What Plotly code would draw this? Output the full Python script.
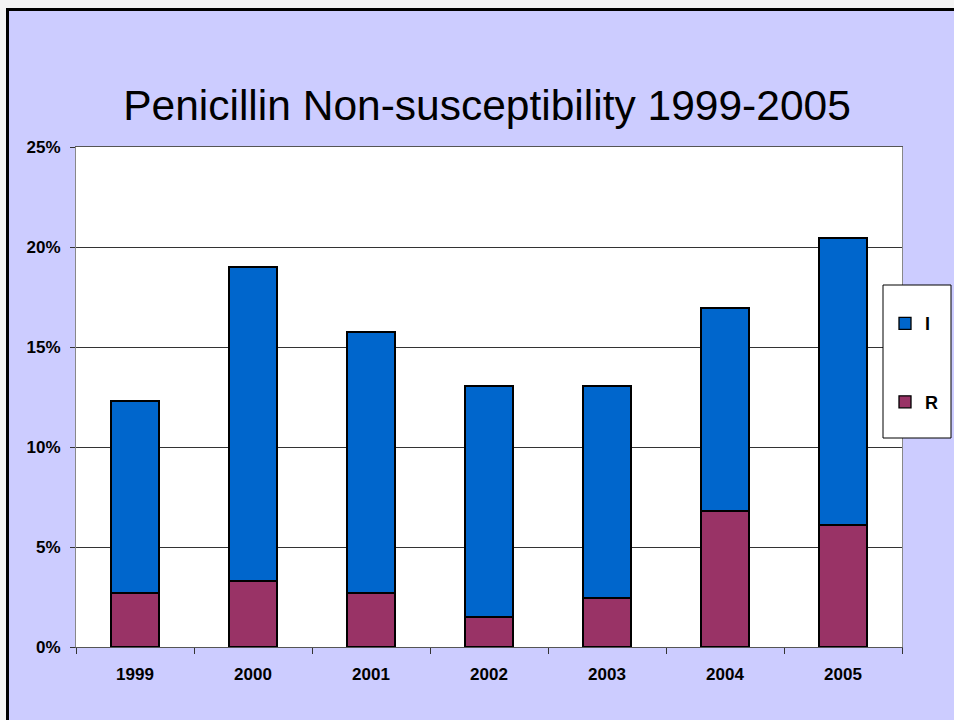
import plotly.graph_objects as go

years = ["1999", "2000", "2001", "2002", "2003", "2004", "2005"]
r_vals = [2.7, 3.3, 2.7, 1.5, 2.45, 6.8, 6.1]
totals = [12.3, 19.0, 15.75, 13.05, 13.05, 16.95, 20.45]
i_vals = [round(t - r, 2) for t, r in zip(totals, r_vals)]
y_ticks = [0, 5, 10, 15, 20, 25]
y_labels = ["0%", "5%", "10%", "15%", "20%", "25%"]

W, H = 954, 720
L, R, T, B = 76, 52, 147, 73
PW, PH = W - L - R, H - T - B


def px(x):
    return (x - L) / PW


def py(y):
    return (H - B - y) / PH


fig = go.Figure()
fig.add_trace(go.Bar(x=years, y=r_vals, name="<b>R</b>", legendgroup="b", legendrank=2,
                     marker=dict(color="#993366", line=dict(color="black", width=1.3))))
fig.add_trace(go.Bar(x=years, y=i_vals, name="<b>I</b>", legendgroup="a", legendrank=1,
                     marker=dict(color="#0066CC", line=dict(color="black", width=1.3))))

fig.update_layout(
    width=W, height=H,
    barmode="stack", bargap=0.595,
    paper_bgcolor="#CCCCFF", plot_bgcolor="white",
    margin=dict(l=L, r=R, t=T, b=B, autoexpand=False),
    font=dict(family="Liberation Sans, Arial", color="black"),
    title=dict(text="Penicillin Non-susceptibility 1999-2005", x=487 / W, xanchor="center",
               y=1 - 105 / H, yanchor="middle", font=dict(size=42.5, color="black")),
    legend=dict(xref="container", yref="container",
                x=885 / W, y=1 - 287 / H, xanchor="left", yanchor="top",
                bgcolor="rgba(0,0,0,0)", borderwidth=0,
                traceorder="grouped", tracegroupgap=52,
                title=dict(text=" ", font=dict(size=14)),
                font=dict(size=18, family="Liberation Sans, Arial", color="black"),
                itemwidth=30),
    showlegend=True,
)
fig.update_xaxes(tickfont=dict(size=17, family="Liberation Sans, Arial", color="black"),
                 tickprefix="<b>", ticksuffix="</b>",
                 showline=True, linecolor="#555555", linewidth=1, mirror=True,
                 ticks="outside", tickson="boundaries", ticklen=6, tickcolor="#333333",
                 ticklabelstandoff=12,
                 showgrid=False)
fig.update_yaxes(range=[0, 25], tickvals=y_ticks, ticktext=["<b>" + t + "</b>" for t in y_labels],
                 tickfont=dict(size=17, family="Liberation Sans, Arial", color="black"),
                 showline=True, linecolor="#888888", linewidth=1, mirror=True,
                 ticks="outside", ticklen=5, tickcolor="#333333",
                 ticklabelstandoff=6,
                 showgrid=True, gridcolor="#333333", gridwidth=1, zeroline=False)

# legend box
fig.add_shape(type="rect", xref="paper", yref="paper",
              x0=px(883), x1=px(951), y0=py(438), y1=py(285),
              fillcolor="white", line=dict(color="black", width=1), layer="above")

# white surround outside the slide frame, then frame lines (top and left)
fig.add_shape(type="rect", xref="paper", yref="paper",
              x0=px(0), x1=px(6), y0=py(H), y1=py(0),
              fillcolor="#F4F4F4", line=dict(width=0), layer="above")
fig.add_shape(type="rect", xref="paper", yref="paper",
              x0=px(0), x1=px(W), y0=py(8), y1=py(0),
              fillcolor="#F4F4F4", line=dict(width=0), layer="above")
fig.add_shape(type="line", xref="paper", yref="paper",
              x0=px(7.5), x1=px(7.5), y0=py(H), y1=py(8),
              line=dict(color="black", width=3), layer="above")
fig.add_shape(type="line", xref="paper", yref="paper",
              x0=px(6), x1=px(W), y0=py(9.5), y1=py(9.5),
              line=dict(color="black", width=3), layer="above")

fig.write_html("out.html", config={"displayModeBar": False},
               post_script="document.body.style.margin='0';document.body.style.overflow='hidden';")
